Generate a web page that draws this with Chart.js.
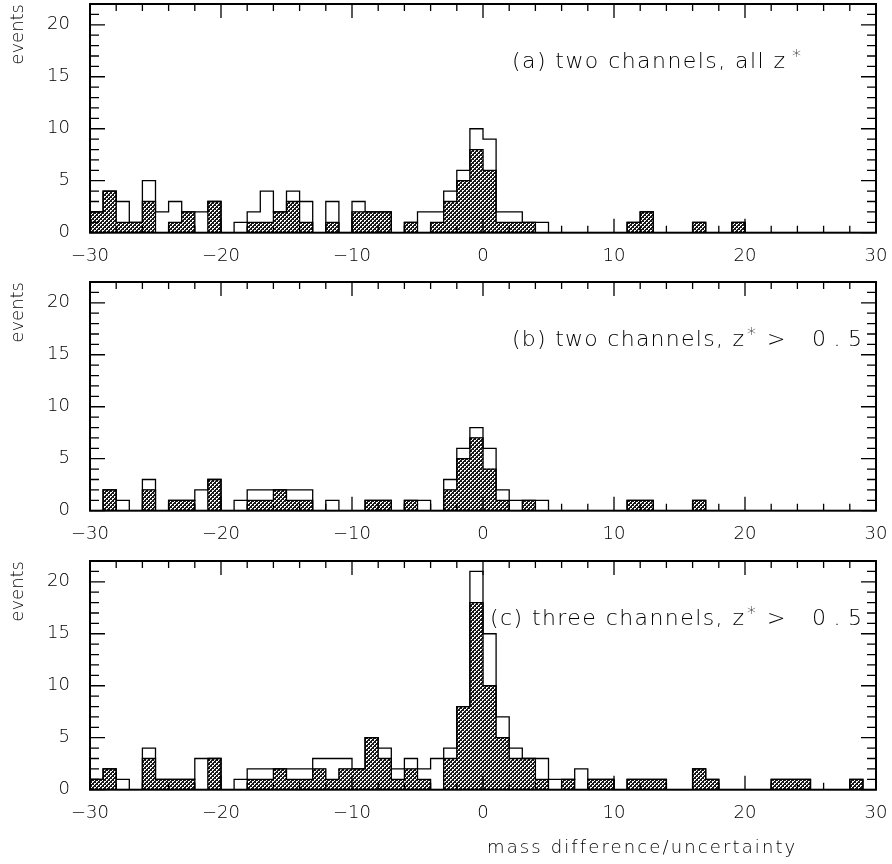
<!DOCTYPE html>
<html>
<head>
<meta charset="utf-8">
<script src="https://cdn.jsdelivr.net/npm/chart.js@4.4.1/dist/chart.umd.min.js"></script>
<style>
html,body{margin:0;padding:0;background:#fff;}
#wrap{position:relative;width:892px;height:864px;overflow:hidden;}
canvas{position:absolute;left:0;}
</style>
</head>
<body>
<div id="wrap">
<canvas id="ca" style="top:0px" width="892" height="278"></canvas>
<canvas id="cb" style="top:278px" width="892" height="278"></canvas>
<canvas id="cc" style="top:557px" width="892" height="307"></canvas>
</div>
<script>
// lower edges of the 60 unit-wide bins
const binEdges = [-30,-29,-28,-27,-26,-25,-24,-23,-22,-21,-20,-19,-18,-17,-16,-15,-14,-13,-12,-11,
  -10,-9,-8,-7,-6,-5,-4,-3,-2,-1,0,1,2,3,4,5,6,7,8,9,
  10,11,12,13,14,15,16,17,18,19,20,21,22,23,24,25,26,27,28,29];
const xTickLabels = [-30,-20,-10,0,10,20,30];
const yTickLabels = [0,5,10,15,20];

// (a) two channels, all z*
const totalA = [2,4,3,1,5,2,3,2,2,3, 0,1,2,4,2,4,3,0,3,0, 3,2,2,0,1,2,2,4,6,10,
  9,2,2,1,1,0,0,0,0,0, 0,1,2,0,0,0,1,0,0,1, 0,0,0,0,0,0,0,0,0,0];
const hatchA = [2,4,1,1,3,0,1,2,0,3, 0,0,1,1,2,3,1,0,1,0, 2,2,2,0,1,0,1,3,5,8,
  6,1,1,1,0,0,0,0,0,0, 0,1,2,0,0,0,1,0,0,1, 0,0,0,0,0,0,0,0,0,0];
// (b) two channels, z* > 0.5
const totalB = [0,2,1,0,3,0,1,1,2,3, 0,1,2,2,2,2,2,0,1,0, 0,1,1,0,1,1,0,3,6,8,
  6,2,1,1,1,0,0,0,0,0, 0,1,1,0,0,0,1,0,0,0, 0,0,0,0,0,0,0,0,0,0];
const hatchB = [0,2,0,0,2,0,1,1,0,3, 0,0,1,1,2,1,1,0,0,0, 0,1,1,0,1,0,0,2,5,7,
  4,1,0,1,0,0,0,0,0,0, 0,1,1,0,0,0,1,0,0,0, 0,0,0,0,0,0,0,0,0,0];
// (c) three channels, z* > 0.5
const totalC = [1,2,1,0,4,1,1,1,3,3, 0,1,2,2,2,2,2,3,3,3, 2,5,4,2,3,2,3,4,8,21,
  15,7,4,3,3,1,1,2,1,1, 0,1,1,1,0,0,2,1,0,0, 0,0,1,1,1,0,0,0,1,0];
const hatchC = [1,2,0,0,3,1,1,1,0,3, 0,0,1,1,2,1,1,2,1,2, 2,5,3,1,2,1,0,3,8,18,
  10,5,3,3,1,0,1,0,1,1, 0,1,1,1,0,0,2,1,0,0, 0,0,1,1,1,0,0,0,1,0];

const panelLabels = [
  ['(a) two channels, all z'],
  ['(b) two channels, z', '>', '0.5'],
  ['(c) three channels, z', '>', '0.5']
];
const xTitle = 'mass difference/uncertainty';
const yTitle = 'events';

const FONT = '"DejaVu Sans", sans-serif';
const TXT = '#000';

// cross-hatch pattern
function makePattern(){
  const c = document.createElement('canvas');
  c.width = 4; c.height = 4;
  const g = c.getContext('2d');
  g.fillStyle = '#1a1a1a'; g.fillRect(0,0,4,4);
  g.fillStyle = '#ffffff';
  g.fillRect(0,0,2,1); g.fillRect(2,2,2,1);
  g.fillRect(0,1,1,1); g.fillRect(2,3,1,1);
  return document.createElement('canvas').getContext('2d').createPattern(c,'repeat');
}
const hatchPattern = makePattern();

function stepPoints(vals){
  const pts = binEdges.map((e,i)=>({x:e, y:vals[i]}));
  pts.push({x:binEdges[binEdges.length-1]+1, y:0});
  return pts;
}

function fitText(ctx, text, x, y, w, size){
  ctx.font = '200 ' + size + 'px ' + FONT;
  ctx.letterSpacing = '0px';
  const m = ctx.measureText(text).width;
  const ls = text.length > 1 ? (w - m) / (text.length - 1) : 0;
  ctx.letterSpacing = ls + 'px';
  ctx.textAlign = 'left';
  ctx.textBaseline = 'alphabetic';
  ctx.fillText(text, x, y);
  ctx.letterSpacing = '0px';
}

const framePlugin = {
  id: 'frame',
  afterDatasetsDraw(chart){
    const {ctx, chartArea:a, scales:{x, y}} = chart;
    ctx.save();
    ctx.strokeStyle = '#000';
    ctx.lineWidth = 1.3;
    ctx.beginPath();
    for (let v = x.min; v <= x.max; v += 2){
      const px = x.getPixelForValue(v);
      const len = (v % 10 === 0) ? 14 : 7;
      ctx.moveTo(px, a.bottom); ctx.lineTo(px, a.bottom - len);
      ctx.moveTo(px, a.top); ctx.lineTo(px, a.top + len);
    }
    for (let v = y.min; v <= y.max; v += 1){
      const py = y.getPixelForValue(v);
      const len = (v % 5 === 0) ? 15 : 9;
      ctx.moveTo(a.left, py); ctx.lineTo(a.left + len, py);
      ctx.moveTo(a.right, py); ctx.lineTo(a.right - len, py);
    }
    ctx.stroke();
    ctx.lineWidth = 2;
    ctx.strokeRect(a.left, a.top, a.width, a.height);
    ctx.restore();
  },
  afterDraw(chart, args, opts){
    const ctx = chart.ctx;
    ctx.save();
    ctx.fillStyle = TXT;
    const L = opts.label;
    fitText(ctx, L.main[0], L.main[1], 68, L.main[2], 22);
    ctx.font = '200 18px ' + FONT;
    ctx.letterSpacing = '0px';
    ctx.textAlign = 'left';
    ctx.textBaseline = 'alphabetic';
    ctx.fillText('*', L.star, 62);
    if (L.gt){
      ctx.font = '200 22px ' + FONT;
      ctx.fillText(L.gt[0], L.gt[1], 68);
    }
    if (L.num) fitText(ctx, L.num[0], L.num[1], 68, L.num[2], 22);
    if (opts.xTitle){
      fitText(ctx, opts.xTitle, 487, 296, 308, 18);
    }
    ctx.restore();
  }
};

function makeChart(id, total, hatch, canvasH, label, withTitle){
  const tickFont = {family: FONT, size: 18, weight: '200'};
  return new Chart(document.getElementById(id), {
    type: 'bar',
    data: {
      datasets: [
        {type:'line', data: stepPoints(total), stepped: true, borderColor:'#000', borderWidth:1.3,
         pointRadius:0, fill:false, order:0},
        {type:'line', data: stepPoints(hatch), stepped: true, borderColor:'#000', borderWidth:1.3,
         pointRadius:0, fill:false, order:1},
        {type:'bar', data: binEdges.map((e,i)=>({x:e+0.5, y:hatch[i]})), backgroundColor: hatchPattern,
         borderWidth:0, barPercentage:1, categoryPercentage:1, grouped:false, order:2}
      ]
    },
    options: {
      responsive:false, animation:false, events:[],
      layout:{padding:{top:4, right:16, left:0, bottom:0}},
      plugins:{
        legend:{display:false}, tooltip:{enabled:false},
        frame:{label: label, xTitle: withTitle ? xTitle : null}
      },
      scales:{
        x:{type:'linear', min:-30, max:30, offset:false,
           grid:{display:false, drawTicks:false}, border:{display:false},
           afterBuildTicks(s){ s.ticks = xTickLabels.map(v=>({value:v})); },
           ticks:{autoSkip:false, maxRotation:0, padding:13, font:tickFont, color:TXT,
                  callback:v=>String(v).replace('-', '\u2212')},
           afterFit(s){ s.height = canvasH - 4 - 228.7; s.paddingLeft = 0; s.paddingRight = 0; }},
        y:{type:'linear', min:0, max:22,
           grid:{display:false, drawTicks:false}, border:{display:false},
           afterBuildTicks(s){ s.ticks = yTickLabels.map(v=>({value:v})); },
           ticks:{padding:20, font:tickFont, color:TXT},
           title:{display:true, text:yTitle, align:'end', color:TXT, font:tickFont, padding:{top:8, bottom:0}},
           afterFit(s){ s.width = 90; s.paddingTop = 0; s.paddingBottom = 0; }}
      }
    },
    plugins:[framePlugin]
  });
}

makeChart('ca', totalA, hatchA, 278,
  {main:[panelLabels[0][0], 512, 273], star:792}, false);
makeChart('cb', totalB, hatchB, 278,
  {main:[panelLabels[1][0], 512, 232], star:747, gt:[panelLabels[1][1], 767], num:[panelLabels[1][2], 812, 50]}, false);
makeChart('cc', totalC, hatchC, 307,
  {main:[panelLabels[2][0], 490, 254], star:747, gt:[panelLabels[2][1], 767], num:[panelLabels[2][2], 812, 50]}, true);
</script>
</body>
</html>
